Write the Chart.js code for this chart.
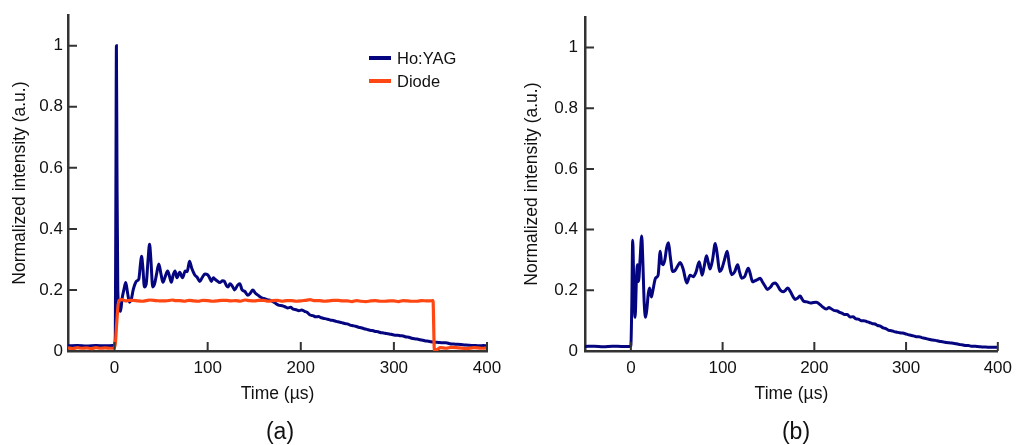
<!DOCTYPE html>
<html><head><meta charset="utf-8">
<script src="https://cdn.jsdelivr.net/npm/chart.js@4.4.0/dist/chart.umd.min.js"></script>
<style>
html,body{margin:0;padding:0;background:#fff;}
#wrap{position:relative;width:1019px;height:445px;overflow:hidden;font-family:"Liberation Sans",Arial,sans-serif;color:#111;}
canvas{position:absolute;top:0;}
.panel{position:absolute;font-size:23px;transform:translate(-50%,-50%);white-space:nowrap;line-height:normal;}
.legend{position:absolute;left:369px;top:46.8px;font-size:16.5px;}
.legend .row{display:flex;align-items:center;height:23px;}
.legend .sw{width:22px;height:4px;margin-right:6px;}
</style></head>
<body>
<div id="wrap">
  <canvas id="ca" width="510" height="445" style="left:0;width:510px;height:445px"></canvas>
  <canvas id="cb" width="509" height="445" style="left:510px;width:509px;height:445px"></canvas>
  <div class="legend">
    <div class="row"><span class="sw" style="background:#05057f"></span><span>Ho:YAG</span></div>
    <div class="row"><span class="sw" style="background:#ff4713"></span><span>Diode</span></div>
  </div>
  <div class="panel" style="left:280px;top:431px">(a)</div>
  <div class="panel" style="left:796px;top:431px">(b)</div>
</div>
<script>
// ---- Data (time in µs, normalized intensity) ----
const tA = [-50,-40,-30,-20,-10,-2,0,0.8,1.5,2.0,2.6,3.5,5,6.5,8,10,12,14,16,18,20,22,24,26,28,29,30.5,32,34,36,37.6,39,41,43,45,47.5,50,52,54,57,59,61,63,65,67,70,73,76,78,80.5,83,86,89,91.5,94,97,100,102,104,106,108,110,113,116,118,120,122,124,126,129,132,134.5,137,140,143,146,148.5,151,154,157,160,164,168,172,176,180,183,186,189,192,195,198,201,204,207,210,213,216,219,222,226,229,232,235,238,241,244,247,250,253,256,259,262,265,268,271,274,277,280,283,286,289,292,295,298,301,304,307,310,313,316,319,322,325,328,331,334,337,340,344,348,352,356,360,364,368,372,376,380,384,388,392,396,400];
const hoA = [0.017,0.018,0.016,0.018,0.017,0.018,0.02,0.05,0.6,1.0,0.6,0.2,0.14,0.13,0.17,0.2,0.224,0.19,0.16,0.17,0.2,0.22,0.23,0.235,0.29,0.31,0.27,0.21,0.22,0.3,0.35,0.3,0.21,0.22,0.25,0.285,0.25,0.225,0.24,0.262,0.245,0.225,0.25,0.262,0.24,0.258,0.24,0.262,0.26,0.294,0.27,0.25,0.24,0.228,0.24,0.252,0.25,0.24,0.228,0.24,0.235,0.23,0.224,0.23,0.228,0.215,0.21,0.22,0.215,0.2,0.215,0.22,0.2,0.195,0.183,0.19,0.2,0.19,0.183,0.176,0.172,0.168,0.165,0.158,0.15,0.148,0.145,0.141,0.143,0.137,0.135,0.132,0.134,0.13,0.126,0.118,0.116,0.112,0.113,0.109,0.106,0.104,0.101,0.1,0.097,0.095,0.093,0.09,0.089,0.085,0.083,0.081,0.078,0.076,0.073,0.071,0.068,0.067,0.064,0.063,0.06,0.059,0.057,0.056,0.054,0.052,0.052,0.05,0.049,0.046,0.045,0.042,0.04,0.039,0.037,0.035,0.033,0.032,0.03,0.029,0.028,0.027,0.027,0.024,0.023,0.022,0.021,0.02,0.019,0.018,0.018,0.017,0.018,0.017,0.016,0.016,0.017];

const tD = [-50,-45,-40,-35,-30,-25,-20,-15,-10,-5,0,1,2.5,4.5,8,12,16,20,25,30,34,38,45,50,55,62,66,70,75,80,85,90,95,100,105,110,115,120,125,130,135,140,145,150,155,160,165,170,175,180,185,190,195,200,205,210,215,220,225,230,235,240,245,250,255,260,265,270,275,280,285,290,295,300,305,310,315,320,325,330,335,338,342,343.5,346,350,356,362,370,378,386,394,400];
const diode = [0.010,0.008,0.011,0.009,0.010,0.008,0.011,0.009,0.010,0.009,0.011,0.03,0.1,0.165,0.168,0.164,0.166,0.166,0.164,0.163,0.165,0.167,0.165,0.164,0.164,0.167,0.165,0.165,0.163,0.166,0.164,0.163,0.166,0.165,0.163,0.164,0.166,0.166,0.164,0.165,0.163,0.167,0.165,0.164,0.166,0.166,0.163,0.165,0.166,0.163,0.165,0.165,0.163,0.164,0.166,0.168,0.165,0.165,0.163,0.164,0.166,0.166,0.164,0.164,0.162,0.165,0.163,0.162,0.164,0.165,0.163,0.163,0.164,0.164,0.162,0.165,0.164,0.163,0.163,0.165,0.164,0.164,0.165,0.003,0.004,0.011,0.009,0.012,0.010,0.008,0.011,0.009,0.010];

const tB = [-50,-40,-30,-20,-10,-1,0,1,2,3,4.6,6,7.1,8.3,10,11.8,13,14.5,16,17.5,19,20.4,22.3,24,26.9,29.7,32,33.5,35,37,39,41,43,45.5,48,51,53.7,57,61,64.5,68,71,74.5,77.7,80,82.4,84.5,86.3,89,92,94.5,96.7,99,102,105,107.5,110,113,116.4,118.5,120.8,124,128,130.5,132.6,135.5,138,141,143,146,148.7,152,155,157.6,160,163,166,168.5,171,174,177,179,182,184.5,186.5,188,192,196,199,202,204,208,213,216,218,222,225,227.5,230,233,236,239,242,245.5,248,251,254,257,260,263.4,266,269,272,275,278,281,284,287,290,293,296,299,302,305,308,311,314,317,320,323,326,329,332,335,338,341,344,347,350,353,356,359,362,365,368,371,374,377,380,384,387,391,394,398,400];
const hoB = [0.015,0.016,0.014,0.016,0.015,0.015,0.018,0.15,0.365,0.25,0.111,0.23,0.284,0.229,0.3,0.379,0.3,0.16,0.111,0.14,0.19,0.208,0.178,0.2,0.24,0.25,0.329,0.29,0.284,0.3,0.34,0.357,0.31,0.262,0.265,0.28,0.292,0.27,0.224,0.25,0.245,0.26,0.294,0.25,0.28,0.314,0.29,0.27,0.3,0.354,0.31,0.262,0.27,0.3,0.329,0.28,0.251,0.26,0.284,0.26,0.24,0.245,0.273,0.25,0.228,0.232,0.235,0.24,0.23,0.215,0.203,0.21,0.222,0.224,0.215,0.2,0.195,0.2,0.208,0.195,0.178,0.17,0.175,0.181,0.172,0.165,0.162,0.158,0.16,0.161,0.158,0.148,0.138,0.143,0.14,0.133,0.132,0.127,0.125,0.12,0.12,0.112,0.113,0.106,0.105,0.1,0.1,0.097,0.094,0.09,0.089,0.084,0.082,0.076,0.074,0.068,0.067,0.064,0.062,0.06,0.059,0.057,0.054,0.052,0.05,0.047,0.047,0.044,0.042,0.04,0.038,0.036,0.035,0.033,0.031,0.03,0.028,0.027,0.026,0.025,0.023,0.021,0.02,0.018,0.018,0.016,0.016,0.015,0.014,0.013,0.013,0.012,0.012,0.012,0.012];

const xTickStep = 100, yTickStep = 0.2;
const xMin = -50, xMax = 400, yMin = 0, yMax = 1.1;

const FONT = '"Liberation Sans", Arial, sans-serif';
const TXT = '#111111', AX = '#333333';
const BLUE = '#05057f', ORANGE = '#ff4713';

function pts(t, v){ return t.map((x,i)=>({x:x, y:v[i]})); }

const innerTicks = {
  id:'innerTicks',
  afterDatasetsDraw(chart){
    const {ctx, chartArea:a, scales:{x,y}} = chart;
    ctx.save(); ctx.strokeStyle = AX; ctx.lineWidth = 2; ctx.beginPath();
    x.ticks.forEach(t=>{const p=x.getPixelForValue(t.value); ctx.moveTo(p,a.bottom); ctx.lineTo(p,a.bottom-9);});
    y.ticks.forEach(t=>{const p=y.getPixelForValue(t.value); ctx.moveTo(a.left,p); ctx.lineTo(a.left+9,p);});
    ctx.stroke(); ctx.restore();
  }
};

function makeChart(id, datasets, L){
  return new Chart(document.getElementById(id), {
    type:'line',
    data:{datasets},
    plugins:[innerTicks],
    options:{
      responsive:false, animation:false, devicePixelRatio:1,
      layout:{padding:{left:0, right:L.right, top:13, bottom:34}},
      plugins:{legend:{display:false}, tooltip:{enabled:false}},
      elements:{point:{radius:0}, line:{cubicInterpolationMode:'monotone'}},
      scales:{
        x:{type:'linear', min:xMin, max:xMax,
           ticks:{stepSize:xTickStep, includeBounds:false, padding:7, color:TXT, font:{family:FONT,size:17}},
           grid:{drawOnChartArea:false, drawTicks:false},
           border:{display:true, color:AX, width:2.5},
           title:{display:true, text:'Time (µs)', color:TXT, font:{family:FONT,size:17.5}, padding:{top:0,bottom:6.5}},
           afterFit(s){ s.height = 60; }
        },
        y:{type:'linear', min:yMin, max:yMax,
           ticks:{stepSize:yTickStep, includeBounds:false, padding:L.tickPad, color:TXT, font:{family:FONT,size:17},
                  callback:(v)=>String(+v.toFixed(1))},
           grid:{drawOnChartArea:false, drawTicks:false},
           border:{display:true, color:AX, width:2.5},
           title:{display:true, text:'Normalized intensity (a.u.)', color:TXT, font:{family:FONT,size:17.5}, padding:{top:L.titlePad,bottom:0}},
           afterFit(s){ s.width = L.left; }
        }
      }
    }
  });
}

makeChart('ca', [
  {label:'Ho:YAG', data:pts(tA,hoA), borderColor:BLUE, backgroundColor:BLUE, borderWidth:3, order:2},
  {label:'Diode', data:pts(tD,diode), borderColor:ORANGE, backgroundColor:ORANGE, borderWidth:3.2, order:1}
], {left:68, right:23, tickPad:5, titlePad:9.5});

makeChart('cb', [
  {label:'Ho:YAG', data:pts(tB,hoB), borderColor:BLUE, backgroundColor:BLUE, borderWidth:3}
], {left:75, right:16, tickPad:7, titlePad:11.2});
</script>
</body></html>
